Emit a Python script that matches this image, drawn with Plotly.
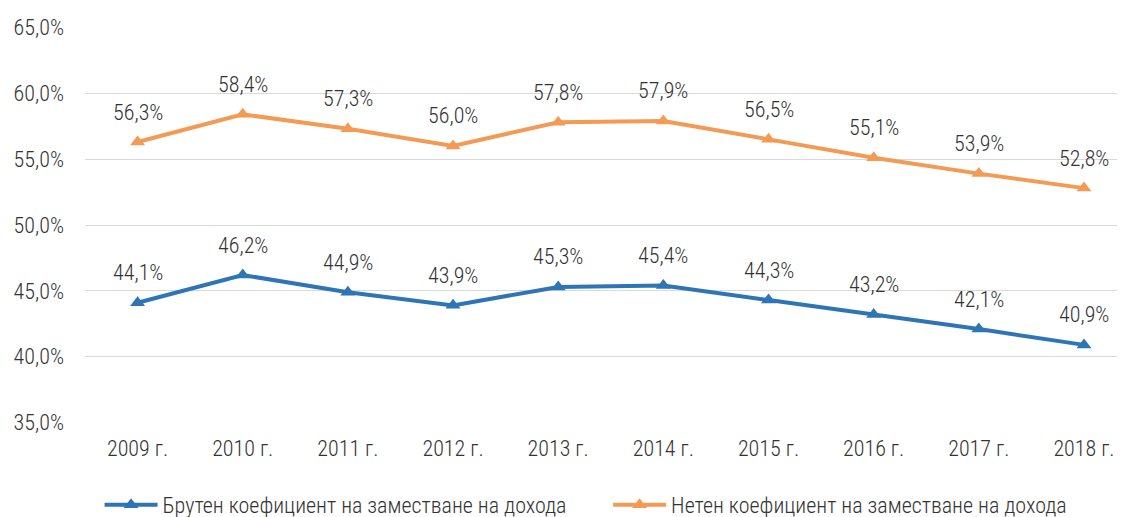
import plotly.graph_objects as go

years = ["2009 г.", "2010 г.", "2011 г.", "2012 г.", "2013 г.", "2014 г.", "2015 г.", "2016 г.", "2017 г.", "2018 г."]
gross = [44.1, 46.2, 44.9, 43.9, 45.3, 45.4, 44.3, 43.2, 42.1, 40.9]
net = [56.3, 58.4, 57.3, 56.0, 57.8, 57.9, 56.5, 55.1, 53.9, 52.8]
name_gross = "Брутен коефициент на заместване на дохода"
name_net = "Нетен коефициент на заместване на дохода"
yticks = [35, 40, 45, 50, 55, 60, 65]

FONT = "Roboto Condensed, Roboto, sans-serif"
W = 300
FS = 22
TXT = "#333333"
BLUE = "#2E75B6"
ORANGE = "#F39A55"

fig = go.Figure()
for name, vals, col, lg in [(name_gross, gross, BLUE, "legend"), (name_net, net, ORANGE, "legend2")]:
    fig.add_trace(go.Scatter(
        x=years, y=vals, name=name, mode="lines+markers", legend=lg,
        line=dict(color=col, width=4),
        marker=dict(symbol="triangle-up", size=13, color=col),
    ))
    for xv, yv in zip(years, vals):
        fig.add_annotation(x=xv, y=yv, text=f"{yv:.1f}%".replace(".", ","),
                           showarrow=False, yshift=30,
                           font=dict(family=FONT, size=FS, color=TXT, weight=W))

legfont = dict(family=FONT, size=FS, color=TXT, weight=W)
# page body has an 8px margin, so the figure is 8px smaller and margins 8px less
fig.update_layout(
    width=1117, height=509,
    margin=dict(l=77, r=0, t=19, b=94, autoexpand=False),
    plot_bgcolor="white", paper_bgcolor="white",
    font=dict(family=FONT, size=FS, color=TXT, weight=W),
    showlegend=True,
    legend=dict(orientation="h", x=0.014, xanchor="left", y=-0.207, yanchor="middle",
                font=legfont, itemwidth=53, bgcolor="rgba(0,0,0,0)"),
    legend2=dict(orientation="h", x=0.503, xanchor="left", y=-0.207, yanchor="middle",
                 font=legfont, itemwidth=53, bgcolor="rgba(0,0,0,0)"),
)
fig.update_xaxes(type="category", range=[-0.5, 9.39], showgrid=False, showline=False,
                 ticks="", ticklabelstandoff=10, zeroline=False, automargin=False)
fig.update_yaxes(range=[34.97, 65.03], tickvals=yticks,
                 ticktext=[f"{v:.1f}%".replace(".", ",") for v in yticks],
                 showgrid=True, gridcolor="#D9D9D9", gridwidth=1.3, zeroline=False,
                 showline=False, ticks="", ticklabelstandoff=20, automargin=False)
fig.write_html("out.html")
